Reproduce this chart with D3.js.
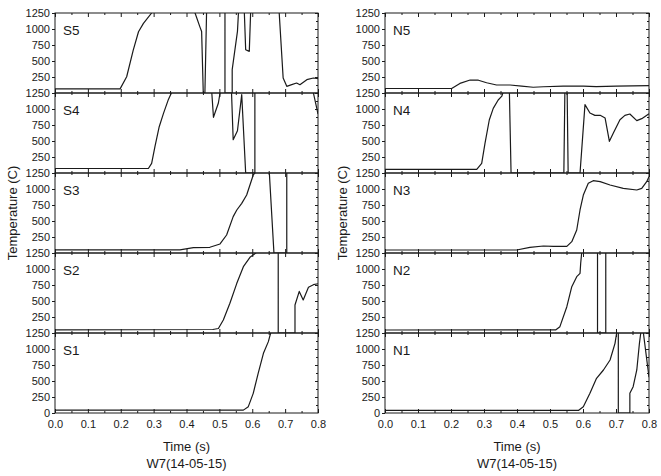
<!DOCTYPE html>
<html>
<head>
<meta charset="utf-8">
<script src="https://cdn.jsdelivr.net/npm/d3@7"></script>
<style>
  html, body { margin: 0; padding: 0; background: #fff; }
  svg { display: block; }
</style>
</head>
<body>
<script>
// ---- Data: [time (s), temperature (C)] ----
const S5 = [[0,65],[0.198,65],[0.218,254],[0.238,670],[0.254,957],[0.269,1088],[0.294,1250],[0.30,1400],[0.42,1400],[0.426,1250],[0.441,1030],[0.446,960],[0.451,0],[0.456,0],[0.461,1250],[0.465,1400],[0.512,1400],[0.517,1250],[0.517,0],[0.539,0],[0.539,365],[0.555,963],[0.558,1250],[0.562,1400],[0.572,1400],[0.576,1250],[0.580,677],[0.591,651],[0.595,1250],[0.60,1400],[0.675,1400],[0.682,1250],[0.694,234],[0.705,104],[0.720,130],[0.735,156],[0.745,130],[0.766,208],[0.786,234],[0.80,225]];
const S4 = [[0,70],[0.284,70],[0.294,151],[0.304,411],[0.317,723],[0.330,932],[0.345,1150],[0.354,1250],[0.36,1400],[0.47,1400],[0.477,1250],[0.482,870],[0.497,1094],[0.502,1250],[0.507,1400],[0.532,1400],[0.537,1250],[0.542,521],[0.555,661],[0.568,1224],[0.580,0],[0.608,0],[0.608,1250],[0.612,1400],[0.78,1400],[0.786,1250],[0.796,1016],[0.80,920]];
const S3 = [[0,50],[0.380,50],[0.421,83],[0.471,89],[0.502,141],[0.522,281],[0.542,568],[0.553,672],[0.568,776],[0.583,906],[0.603,1219],[0.608,1250],[0.612,1400],[0.648,1400],[0.652,1250],[0.666,0],[0.705,0],[0.705,1250],[0.71,1400],[0.8,1400]];
const S2 = [[0,50],[0.48,55],[0.497,70],[0.512,203],[0.532,464],[0.553,776],[0.573,1036],[0.593,1183],[0.611,1250],[0.615,1400],[0.675,1400],[0.679,1250],[0.679,0],[0.730,0],[0.730,437],[0.743,650],[0.755,516],[0.771,714],[0.786,755],[0.80,770]];
const S1 = [[0,45],[0.573,45],[0.588,99],[0.603,307],[0.618,620],[0.634,932],[0.649,1115],[0.656,1250],[0.66,1400],[0.8,1400]];

const N5 = [[0,70],[0.202,70],[0.227,150],[0.258,203],[0.283,200],[0.308,160],[0.338,125],[0.379,125],[0.414,108],[0.449,90],[0.48,98],[0.54,108],[0.601,108],[0.64,100],[0.70,108],[0.8,115]];
const N4 = [[0,57],[0.278,57],[0.293,151],[0.303,464],[0.316,828],[0.328,1010],[0.343,1141],[0.354,1200],[0.357,1250],[0.36,1400],[0.372,1400],[0.377,1250],[0.382,0],[0.542,0],[0.545,1250],[0.548,1400],[0.550,1400],[0.552,1250],[0.555,0],[0.591,0],[0.606,1068],[0.621,937],[0.636,901],[0.652,901],[0.667,859],[0.680,495],[0.692,625],[0.712,833],[0.727,901],[0.742,922],[0.763,818],[0.778,849],[0.80,925]];
const N3 = [[0,47],[0.399,47],[0.439,89],[0.48,109],[0.51,104],[0.551,104],[0.566,177],[0.581,359],[0.591,672],[0.601,906],[0.616,1089],[0.631,1130],[0.652,1115],[0.682,1063],[0.722,1010],[0.763,984],[0.778,1010],[0.793,1115],[0.80,1193]];
const N2 = [[0,47],[0.518,50],[0.530,99],[0.551,411],[0.566,724],[0.581,880],[0.591,932],[0.593,1089],[0.596,1250],[0.60,1400],[0.640,1400],[0.644,1250],[0.644,0],[0.669,0],[0.669,1250],[0.673,1400],[0.8,1400]];
const N1 = [[0,40],[0.586,40],[0.601,99],[0.621,307],[0.641,542],[0.662,672],[0.682,828],[0.697,1089],[0.702,1250],[0.705,1400],[0.707,1250],[0.707,0],[0.742,0],[0.742,307],[0.752,411],[0.763,672],[0.771,1089],[0.775,1250],[0.779,1400],[0.781,1400],[0.783,1250],[0.80,560]];

const leftNames = ["S5","S4","S3","S2","S1"];
const rightNames = ["N5","N4","N3","N2","N1"];
const xTicks = [0,0.1,0.2,0.3,0.4,0.5,0.6,0.7,0.8];
const xMinor = [0.05,0.15,0.25,0.35,0.45,0.55,0.65,0.75];
const yTicks = [250,500,750,1000,1250];
const yTicksBottom = [0,250,500,750,1000,1250];
const yMinor = [125,375,625,875,1125];
const xTitle = "Time (s)";
const subTitle = "W7(14-05-15)";
const yTitle = "Temperature (C)";

// ---- Layout ----
const W = 661, H = 476;
const panelTop = 13, panelH = 80;
const columns = [
  { x0: 55, x1: 318, names: leftNames, series: [S5,S4,S3,S2,S1], titleX: 12 },
  { x0: 385, x1: 649, names: rightNames, series: [N5,N4,N3,N2,N1], titleX: 342 }
];
const FONT = '"Liberation Sans", Arial, sans-serif';
const INK = "#1a1a1a";

const svg = d3.select("body").append("svg")
  .attr("width", W).attr("height", H)
  .style("font-family", FONT);
const defs = svg.append("defs");

function styleAxis(g) {
  g.select(".domain").remove();
  g.selectAll("line").attr("stroke", INK).attr("stroke-width", 1);
  g.selectAll("text").attr("fill", INK).style("font-family", FONT);
}

columns.forEach((col, ci) => {
  const x = d3.scaleLinear().domain([0, 0.8]).range([col.x0, col.x1]);
  col.series.forEach((data, i) => {
    const top = panelTop + i * panelH;
    const bottom = top + panelH;
    const y = d3.scaleLinear().domain([0, 1250]).range([bottom, top]);
    const g = svg.append("g");
    const clipId = `clip-${ci}-${i}`;
    defs.append("clipPath").attr("id", clipId)
      .append("rect").attr("x", col.x0).attr("y", top)
      .attr("width", col.x1 - col.x0).attr("height", panelH);

    // data line
    const line = d3.line().x(d => x(d[0])).y(d => y(d[1]));
    g.append("path").datum(data)
      .attr("clip-path", `url(#${clipId})`)
      .attr("d", line)
      .attr("fill", "none").attr("stroke", INK)
      .attr("stroke-width", 1.2).attr("stroke-linejoin", "round");

    // left axis with labels
    const isBottom = i === col.series.length - 1;
    g.append("g").attr("transform", `translate(${col.x0},0)`)
      .call(d3.axisLeft(y).tickValues(isBottom ? yTicksBottom : yTicks)
        .tickSize(3).tickPadding(2).tickFormat(d3.format("d")))
      .call(styleAxis)
      .selectAll("text").style("font-size", "11px");

    // right inward ticks
    g.append("g").attr("transform", `translate(${col.x1},0)`)
      .call(d3.axisLeft(y).tickValues(yTicks).tickSize(3).tickFormat(""))
      .call(styleAxis);
    g.append("g").attr("transform", `translate(${col.x1},0)`)
      .call(d3.axisLeft(y).tickValues(yMinor).tickSize(2).tickFormat(""))
      .call(styleAxis);

    // top edge ticks pointing down
    g.append("g").attr("transform", `translate(0,${top})`)
      .call(d3.axisBottom(x).tickValues(xTicks).tickSize(4).tickFormat(""))
      .call(styleAxis);
    g.append("g").attr("transform", `translate(0,${top})`)
      .call(d3.axisBottom(x).tickValues(xMinor).tickSize(2).tickFormat(""))
      .call(styleAxis);
    // bottom edge ticks pointing up
    g.append("g").attr("transform", `translate(0,${bottom})`)
      .call(d3.axisTop(x).tickValues(xTicks).tickSize(4).tickFormat(""))
      .call(styleAxis);
    g.append("g").attr("transform", `translate(0,${bottom})`)
      .call(d3.axisTop(x).tickValues(xMinor).tickSize(2).tickFormat(""))
      .call(styleAxis);

    if (isBottom) {
      g.append("g").attr("transform", `translate(0,${bottom})`)
        .call(d3.axisBottom(x).tickValues(xTicks).tickSize(0).tickPadding(7)
          .tickFormat(d3.format(".1f")))
        .call(styleAxis)
        .selectAll("text").style("font-size", "11px");
    }

    // frame
    g.append("rect").attr("x", col.x0).attr("y", top)
      .attr("width", col.x1 - col.x0).attr("height", panelH)
      .attr("fill", "none").attr("stroke", INK).attr("stroke-width", 1);

    // panel label
    g.append("text").attr("x", col.x0 + 8).attr("y", top + 22)
      .attr("fill", INK).style("font-size", "13.5px")
      .text(col.names[i]);
  });

  const cx = (col.x0 + col.x1) / 2;
  svg.append("text").attr("x", cx).attr("y", 451)
    .attr("text-anchor", "middle").attr("fill", INK)
    .style("font-size", "13px").text(xTitle);
  svg.append("text").attr("x", cx).attr("y", 468)
    .attr("text-anchor", "middle").attr("fill", INK)
    .style("font-size", "13px").text(subTitle);
  svg.append("text")
    .attr("transform", `translate(${col.titleX + 4.5},${panelTop + panelH * 2.5}) rotate(-90)`)
    .attr("text-anchor", "middle").attr("fill", INK)
    .style("font-size", "13px").text(yTitle);
});
</script>
</body>
</html>
